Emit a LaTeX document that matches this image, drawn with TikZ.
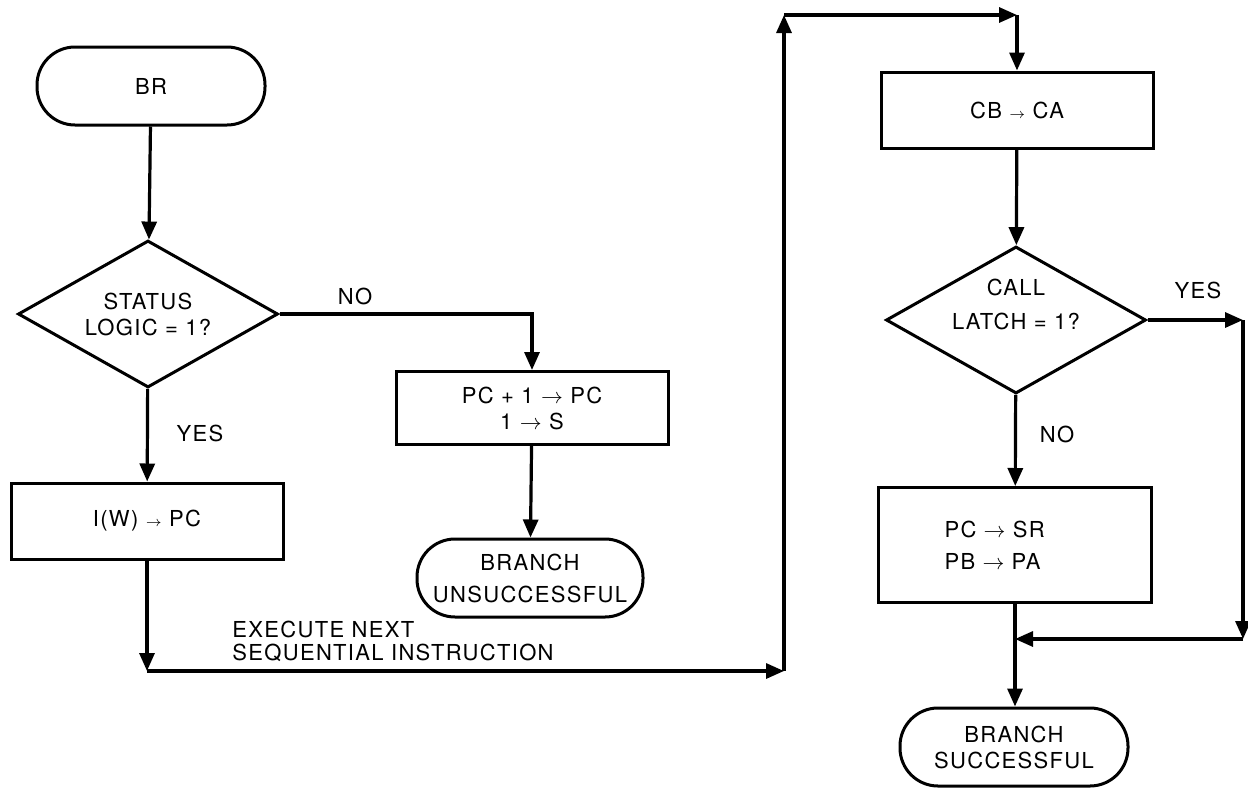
\documentclass[tikz,border=0pt]{standalone}
\usepackage{fontspec}
\setmainfont[LetterSpace=6]{TeX Gyre Heros}
\usetikzlibrary{shapes.geometric,arrows.meta}
\begin{document}
\begin{tikzpicture}[x=0.5pt, y=-0.5pt,
  font=\fontsize{11}{13}\selectfont,
  every node/.style={align=center, inner sep=0pt},
  term/.style={draw, line width=1.5pt, rounded corners=19pt, minimum width=#1, minimum height=39pt},
  proc/.style={draw, line width=1.5pt, minimum width=136pt, minimum height=#1},
  dec/.style={draw, line width=1.5pt, diamond, aspect=1.77, minimum width=130pt, minimum height=73.5pt},
  flow/.style={line width=1.6pt, -{Triangle[length=9pt,width=7.5pt]}}]
  \useasboundingbox (0,0) rectangle (1248,788);
  % left column
  \node[term=114pt] (br) at (151,86) {BR};
  \node[dec] (status) at (148,314) {STATUS\\LOGIC = 1?};
  \node[proc=38pt] (iw) at (147,521) {I(W) {\scriptsize$\rightarrow$} PC};
  % no branch
  \node[proc=36.5pt] (inc) at (532,408) {PC + 1 $\rightarrow$ PC\\1 $\rightarrow$ S};
  \node[term=113pt] (unsucc) at (530,578) {BRANCH\\[3pt]UNSUCCESSFUL};
  % right column
  \node[proc=38pt] (cbca) at (1017,110) {CB {\scriptsize$\rightarrow$} CA};
  \node[dec] (call) at (1016,320) {};
  \node (calltxt) at (1016,304) {CALL\\[4pt]LATCH = 1?};
  \node[draw, line width=1.5pt, minimum height=57.5pt, inner xsep=33pt, text width=70.5pt, align=left] (srpa) at (1015,545) {PC $\rightarrow$ SR\\[3pt]PB $\rightarrow$ PA};
  \node[term=114pt] (succ) at (1014,747) {BRANCH\\SUCCESSFUL};
  % labels
  \node (no1) at (355,296) {NO};
  \node (yes1) at (200,433) {YES};
  \node (yes2) at (1198,290) {YES};
  \node (no2) at (1057,434) {NO};
  \node[anchor=west, align=left] (exec) at (232,641) {EXECUTE NEXT\\[-1.5pt]SEQUENTIAL INSTRUCTION};
  % corner points
  \coordinate (c1) at (147,671);
  \coordinate (c2) at (784,671);
  \coordinate (c3) at (784,15);
  \coordinate (c4) at (1017,15);
  \coordinate (r1) at (1243,320);
  \coordinate (m) at (1015,639);
  \coordinate (m2) at (1243,639);
  % flow lines
  \draw[flow] (br) -- (status);
  \draw[flow] (status) -- (iw);
  \draw[flow] (status.east) -| (inc.north);
  \draw[flow] (inc) -- (unsucc);
  \draw[flow] (iw) -- (c1);
  \draw[flow] (c1) -- (c2);
  \draw[flow] (c2) -- (c3);
  \draw[flow] (c3) -- (c4);
  \draw[flow] (c4) -- (cbca);
  \draw[flow] (cbca) -- (call);
  \draw[flow] (call) -- (srpa);
  \draw[flow] (call.east) -- (r1);
  \draw[flow] (r1) -- (m2);
  \draw[flow] (m2) -- (m);
  \draw[flow] (srpa.south) -- (srpa.south |- succ.north);
\end{tikzpicture}
\end{document}
